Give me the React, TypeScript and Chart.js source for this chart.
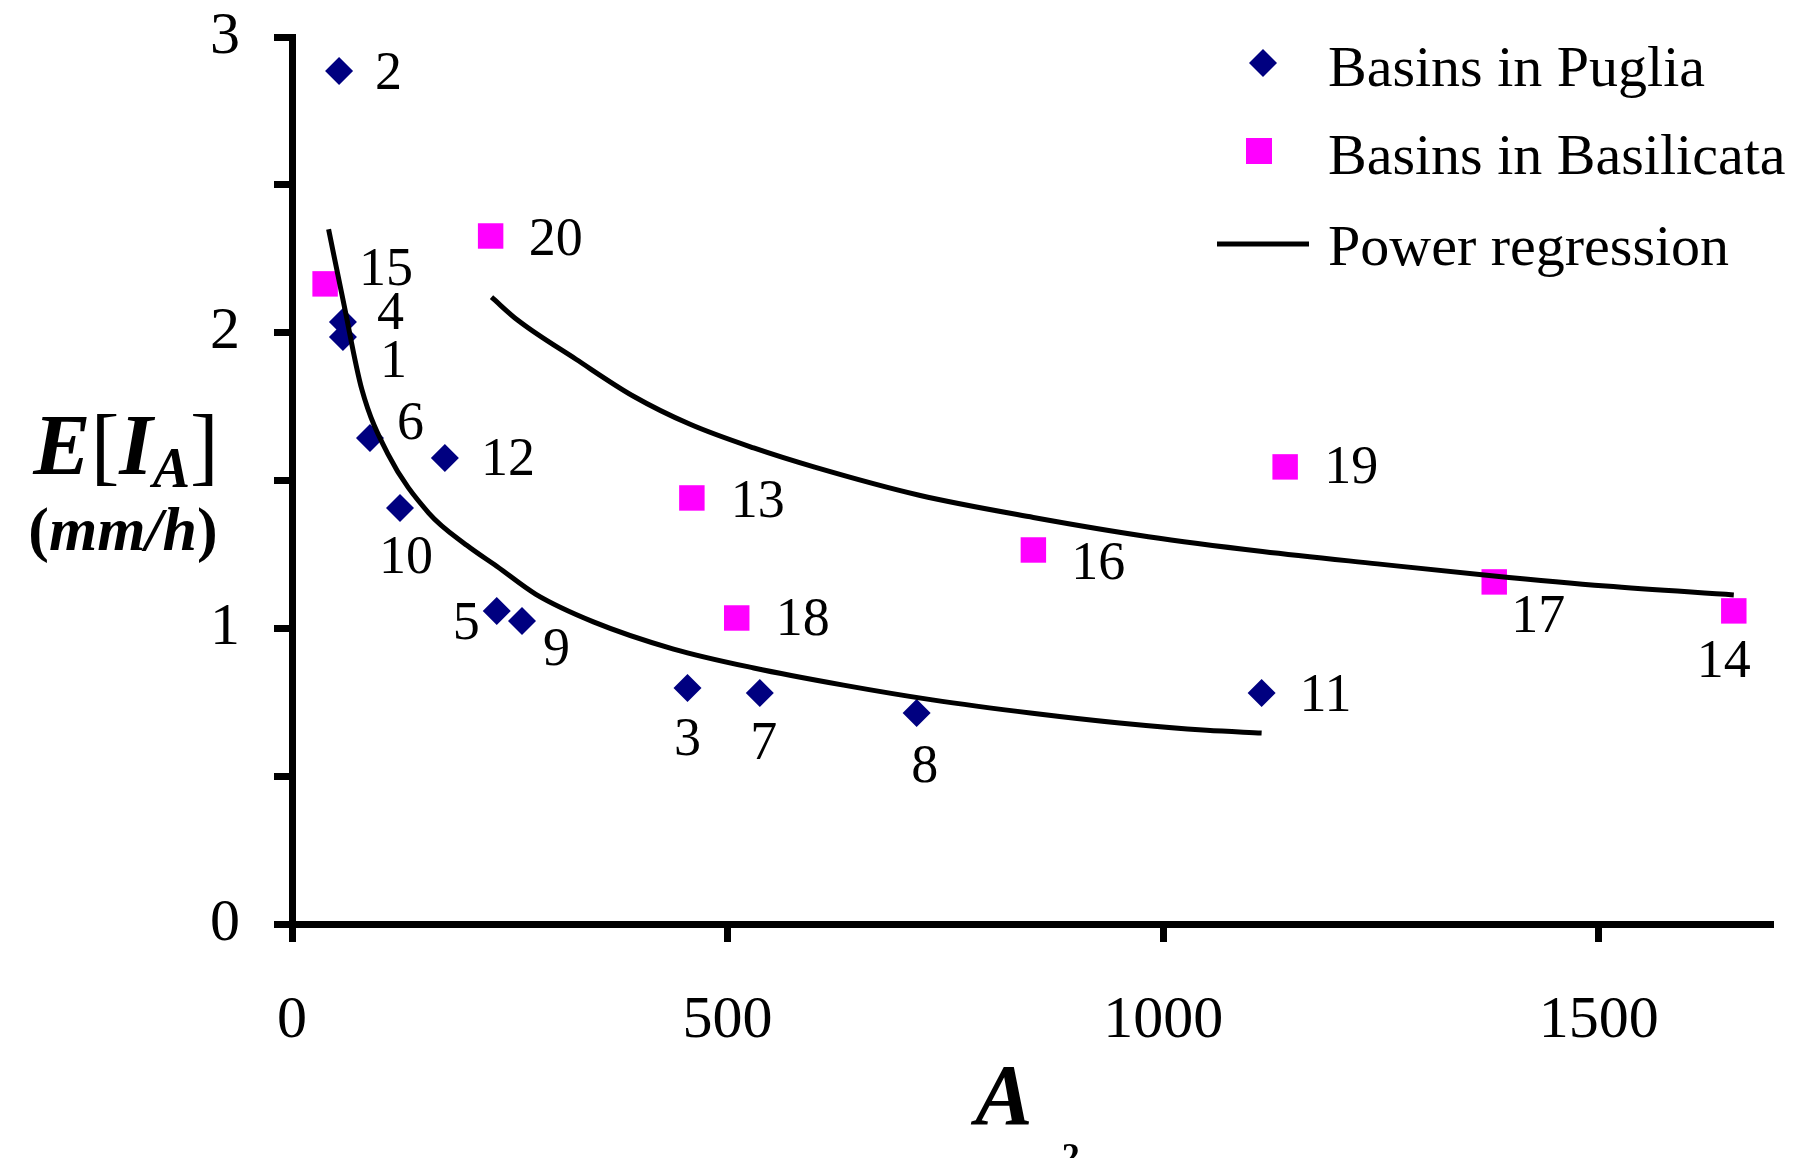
import React, { useEffect, useRef } from 'react';
import { Chart, registerables } from 'chart.js';

Chart.register(...registerables);

const SERIF = "'Liberation Serif', 'Times New Roman', serif";

// ---- Data ----
// Basins in Puglia (basin numbers 1..12)
const pugliaIds = [1, 2, 3, 4, 5, 6, 7, 8, 9, 10, 11, 12];
const pugliaArea = [58.5, 54, 454, 58.5, 235, 89.5, 537, 717, 264, 124, 1113, 175.5];
const pugliaEIA = [1.985, 2.885, 0.798, 2.036, 1.059, 1.644, 0.781, 0.714, 1.025, 1.407, 0.781, 1.576];

// Basins in Basilicata (basin numbers 13..20)
const basilicataIds = [13, 14, 15, 16, 17, 18, 19, 20];
const basilicataArea = [459, 1655, 38, 851, 1380, 510.5, 1140, 228];
const basilicataEIA = [1.441, 1.059, 2.165, 1.265, 1.157, 1.035, 1.546, 2.327];

// Power regression curves
const pugliaFitArea = [42, 60, 80, 110, 157, 201, 235, 280, 346, 438, 530, 633, 735, 850, 950, 1050, 1113];
const pugliaFitEIA = [2.35, 2.09, 1.81, 1.59, 1.39, 1.28, 1.21, 1.115, 1.022, 0.93, 0.866, 0.808, 0.758, 0.713, 0.68, 0.655, 0.646];
const basilicataFitArea = [229, 260, 326, 392, 457, 530, 600, 720, 851, 983, 1114, 1246, 1377, 1508, 1655];
const basilicataFitEIA = [2.12, 2.04, 1.91, 1.785, 1.69, 1.61, 1.545, 1.45, 1.375, 1.31, 1.26, 1.218, 1.178, 1.143, 1.113];

const xTickValues = [0, 500, 1000, 1500];
const yTickLabels = [0, 1, 2, 3];

const legendLabels = ['Basins in Puglia', 'Basins in Basilicata', 'Power regression'];

// ---- Styling / placement (not data) ----
const PUGLIA_COLOR = '#000080';
const BASIL_COLOR = '#FF00FF';
// label placement relative to the marker: [dx, dy, align]
const pugliaLabelPos: [number, number, CanvasTextAlign][] = [
  [37, 26, 'left'], [36, 4, 'left'], [0, 53, 'center'], [34, -7, 'left'],
  [-17, 14, 'right'], [27, -13, 'left'], [4, 52, 'center'], [8, 55, 'center'],
  [21, 30, 'left'], [6, 51, 'center'], [38, 4, 'left'], [36, 3, 'left'],
];
const basilicataLabelPos: [number, number, CanvasTextAlign][] = [
  [39, 5, 'left'], [-10, 52, 'center'], [34, -13, 'left'], [38, 15, 'left'],
  [17, 36, 'left'], [39, 3, 'left'], [39, 2, 'left'], [38, 5, 'left'],
];

const W = 1803;
const H = 1158;

function drawRuns(ctx: CanvasRenderingContext2D, runs: { t: string; font: string; dy?: number }[], cx: number, baseline: number, alignLeft?: number) {
  let total = 0;
  runs.forEach((r) => { ctx.font = r.font; total += ctx.measureText(r.t).width; });
  let x = alignLeft !== undefined ? alignLeft : cx - total / 2;
  ctx.textAlign = 'left';
  ctx.textBaseline = 'alphabetic';
  runs.forEach((r) => {
    ctx.font = r.font;
    ctx.fillText(r.t, x, baseline + (r.dy || 0));
    x += ctx.measureText(r.t).width;
  });
}

const annotationPlugin = {
  id: 'annotationPlugin',
  afterDatasetsDraw(chart: any) {
    const ctx: CanvasRenderingContext2D = chart.ctx;
    ctx.save();
    ctx.fillStyle = '#000';
    ctx.font = `54px ${SERIF}`;
    ctx.textBaseline = 'middle';
    const sets = [
      { idx: 2, ids: pugliaIds, pos: pugliaLabelPos },
      { idx: 3, ids: basilicataIds, pos: basilicataLabelPos },
    ];
    sets.forEach((s) => {
      const meta = chart.getDatasetMeta(s.idx);
      meta.data.forEach((el: any, i: number) => {
        const [dx, dy, align] = s.pos[i];
        ctx.textAlign = align;
        ctx.fillText(String(s.ids[i]), el.x + dx, el.y + dy);
      });
    });

    // Y axis title: E[I_A] (mm/h)
    const bi = (n: number) => `bold italic ${n}px ${SERIF}`;
    const up = (n: number) => `${n}px ${SERIF}`;
    const bu = (n: number) => `bold ${n}px ${SERIF}`;
    drawRuns(ctx, [
      { t: 'E', font: bi(86) },
      { t: '[', font: up(86) },
      { t: 'I', font: bi(86) },
      { t: 'A', font: bi(56), dy: 13 },
      { t: ']', font: up(86) },
    ], 126, 474);
    drawRuns(ctx, [
      { t: '(', font: bu(62) },
      { t: 'mm/h', font: bi(62) },
      { t: ')', font: bu(62) },
    ], 123, 550);

    // X axis title: A (km²) — second line cut by the picture edge
    drawRuns(ctx, [{ t: 'A', font: bi(86) }], 1004, 1124);
    drawRuns(ctx, [
      { t: '(', font: bu(52) },
      { t: 'km', font: bi(52) },
      { t: '2', font: bu(36), dy: -30 },
      { t: ')', font: bu(52) },
    ], 0, 1198, 978);

    ctx.restore();
  },
  afterDraw(chart: any) {
    const ctx: CanvasRenderingContext2D = chart.ctx;
    ctx.save();
    // Legend
    const dx = 1263, dy = 63, r = 14;
    ctx.fillStyle = PUGLIA_COLOR;
    ctx.beginPath();
    ctx.moveTo(dx, dy - r);
    ctx.lineTo(dx + r, dy);
    ctx.lineTo(dx, dy + r);
    ctx.lineTo(dx - r, dy);
    ctx.closePath();
    ctx.fill();
    ctx.fillStyle = BASIL_COLOR;
    ctx.fillRect(1259 - 13, 151 - 13, 26, 26);
    ctx.strokeStyle = '#000';
    ctx.lineWidth = 5;
    ctx.beginPath();
    ctx.moveTo(1217, 244);
    ctx.lineTo(1309, 244);
    ctx.stroke();
    ctx.fillStyle = '#000';
    ctx.font = `58px ${SERIF}`;
    ctx.textAlign = 'left';
    ctx.textBaseline = 'alphabetic';
    ctx.fillText(legendLabels[0], 1328, 86);
    ctx.fillText(legendLabels[1], 1328, 174);
    ctx.fillText(legendLabels[2], 1328, 265);
    ctx.restore();
  },
};

export default function App() {
  const canvasRef = useRef<HTMLCanvasElement | null>(null);

  useEffect(() => {
    const canvas = canvasRef.current;
    if (!canvas) return;
    const toPts = (xs: number[], ys: number[]) => xs.map((x, i) => ({ x, y: ys[i] }));

    const axisGrid = {
      display: true,
      drawOnChartArea: false,
      drawTicks: true,
      tickLength: 18,
      tickWidth: 7,
      tickColor: '#000',
    };
    const zeroPad = (s: any) => {
      s.paddingTop = 0;
      s.paddingBottom = 0;
      s.paddingLeft = 0;
      s.paddingRight = 0;
    };

    const chart = new Chart(canvas, {
      type: 'scatter',
      data: {
        datasets: [
          {
            label: legendLabels[2],
            data: toPts(pugliaFitArea, pugliaFitEIA),
            showLine: true,
            borderColor: '#000',
            borderWidth: 5,
            pointRadius: 0,
            cubicInterpolationMode: 'monotone',
            fill: false,
            order: 0,
            clip: false,
          } as any,
          {
            label: legendLabels[2],
            data: toPts(basilicataFitArea, basilicataFitEIA),
            showLine: true,
            borderColor: '#000',
            borderWidth: 5,
            pointRadius: 0,
            cubicInterpolationMode: 'monotone',
            fill: false,
            order: 0,
            clip: false,
          } as any,
          {
            label: legendLabels[0],
            data: toPts(pugliaArea, pugliaEIA),
            pointStyle: 'rectRot',
            pointRadius: 14,
            backgroundColor: PUGLIA_COLOR,
            borderColor: PUGLIA_COLOR,
            borderWidth: 0,
            order: 1,
            clip: false,
          } as any,
          {
            label: legendLabels[1],
            data: toPts(basilicataArea, basilicataEIA),
            pointStyle: 'rect',
            pointRadius: 18,
            backgroundColor: BASIL_COLOR,
            borderColor: BASIL_COLOR,
            borderWidth: 0,
            order: 1,
            clip: false,
          } as any,
        ],
      },
      options: {
        animation: false,
        responsive: false,
        devicePixelRatio: 1,
        layout: { padding: { top: 37, right: 30, left: 0, bottom: 0 } },
        plugins: {
          legend: { display: false },
          tooltip: { enabled: false },
        },
        scales: {
          x: {
            type: 'linear',
            min: 0,
            max: 1700,
            afterBuildTicks: (s: any) => {
              s.ticks = xTickValues.map((v) => ({ value: v }));
            },
            afterFit: (s: any) => { s.height = 234; zeroPad(s); },
            ticks: {
              autoSkip: false,
              maxRotation: 0,
              color: '#000',
              padding: 43,
              font: { family: SERIF, size: 60 },
              callback: (v: any) => String(v),
            },
            grid: axisGrid,
            border: { display: true, color: '#000', width: 7 },
          },
          y: {
            type: 'linear',
            min: 0,
            max: 3,
            afterFit: (s: any) => { s.width = 292; zeroPad(s); },
            ticks: {
              stepSize: 0.5,
              autoSkip: false,
              color: '#000',
              padding: 34,
              font: { family: SERIF, size: 60 },
              callback: (v: any) => (yTickLabels.includes(Number(v)) ? String(v) : ''),
            },
            grid: axisGrid,
            border: { display: true, color: '#000', width: 7 },
          },
        },
      } as any,
      plugins: [annotationPlugin],
    });

    return () => chart.destroy();
  }, []);

  return (
    <div style={{ position: 'fixed', left: 0, top: 0, width: W, height: H, background: '#fff', overflow: 'hidden' }}>
      <canvas ref={canvasRef} width={W} height={H} style={{ display: 'block', width: W, height: H }} />
    </div>
  );
}
